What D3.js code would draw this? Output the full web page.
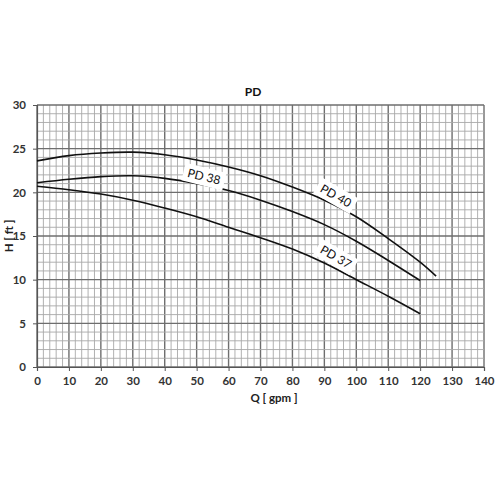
<!DOCTYPE html>
<html>
<head>
<meta charset="utf-8">
<script src="https://cdn.jsdelivr.net/npm/d3@7"></script>
<style>
  body { margin: 0; background: #fff; }
  svg text { font-family: Lato, "Open Sans", sans-serif; }
</style>
</head>
<body>
<div id="chart"></div>
<script>
// flow Q [gpm] and head H [ft]
var q = [0, 10, 20, 30, 40, 50, 60, 70, 80, 90, 100, 110, 120];
var q40 = [0, 10, 20, 30, 40, 50, 60, 70, 80, 90, 100, 110, 120, 125];
var pd40 = [23.6, 24.2, 24.5, 24.6, 24.3, 23.7, 22.9, 21.9, 20.6, 19.1, 17.2, 14.7, 12.0, 10.4];
var pd38 = [21.1, 21.5, 21.8, 21.9, 21.6, 21.0, 20.2, 19.1, 17.8, 16.3, 14.4, 12.2, 9.9];
var pd37 = [20.7, 20.3, 19.8, 19.1, 18.2, 17.2, 16.0, 14.8, 13.5, 11.9, 10.0, 8.1, 6.1];

var curveNames = ["PD 40", "PD 38", "PD 37"];
// label anchor in data units and text angle
var labelQ = [93.6, 52.3, 93.6];
var labelH = [19.6, 21.8, 12.6];
var labelAngle = [30, 14, 30];

var xTicks = d3.range(0, 141, 10);
var yTicks = d3.range(0, 31, 5);

(function(){
	var W = 500, H = 500;
	var m = {left: 37, right: 16, top: 105, bottom: 133};

	var svg = d3.select("#chart").append("svg")
		.attr("width", W).attr("height", H);

	var x = d3.scaleLinear().domain([0, 140]).range([m.left, W - m.right]);
	var y = d3.scaleLinear().domain([0, 30]).range([H - m.bottom, m.top]);

	var grid = svg.append("g");

	//grid, major every 10 / 5
	grid.selectAll("line.vx").data(d3.range(0, 141, 2)).enter().append("line")
		.attr("x1", function(d){return x(d)}).attr("x2", function(d){return x(d)})
		.attr("y1", y(0)).attr("y2", y(30))
		.attr("stroke", function(d){return d % 10 === 0 ? "#6e6e6e" : "#a8a8a8"})
		.attr("stroke-width", function(d){return d % 10 === 0 ? 1.4 : 0.9});
	grid.selectAll("line.hy").data(d3.range(0, 31, 1)).enter().append("line")
		.attr("y1", function(d){return y(d)}).attr("y2", function(d){return y(d)})
		.attr("x1", x(0)).attr("x2", x(140))
		.attr("stroke", function(d){return d % 5 === 0 ? "#6e6e6e" : "#a8a8a8"})
		.attr("stroke-width", function(d){return d % 5 === 0 ? 1.4 : 0.9});

	//axes
	var xa = svg.append("g").attr("transform", "translate(0," + y(0) + ")")
		.call(d3.axisBottom(x).tickValues(xTicks).tickSize(4).tickPadding(6));
	var ya = svg.append("g").attr("transform", "translate(" + x(0) + ",0)")
		.call(d3.axisLeft(y).tickValues(yTicks).tickSize(4).tickPadding(7));
	[xa, ya].forEach(function(a){
		a.select(".domain").attr("stroke", "#555").attr("stroke-width", 1.2);
		a.selectAll(".tick line").attr("stroke", "#555");
		a.selectAll("text").attr("font-size", 11.5).attr("font-weight", "bold").attr("fill", "#333");
	});

	//curves
	var line = d3.line().curve(d3.curveCatmullRom.alpha(0.5))
		.x(function(d){return x(d[0])}).y(function(d){return y(d[1])});
	var series = [d3.zip(q40, pd40), d3.zip(q, pd38), d3.zip(q, pd37)];
	svg.append("g").selectAll("path").data(series).enter().append("path")
		.attr("d", line).attr("fill", "none")
		.attr("stroke", "#111").attr("stroke-width", 1.6);

	//labels on white boxes
	var lab = svg.append("g").selectAll("g").data(curveNames).enter().append("g")
		.attr("transform", function(d, i){
			return "translate(" + x(labelQ[i]) + "," + y(labelH[i]) + ") rotate(" + labelAngle[i] + ")";
		});
	lab.append("rect").attr("x", -21).attr("y", -9).attr("width", 42).attr("height", 18)
		.attr("fill", "#fff");
	lab.append("text").text(function(d){return d})
		.attr("text-anchor", "middle").attr("dy", "0.35em")
		.attr("font-size", 12).attr("fill", "#111");

	//titles
	svg.append("text").attr("x", 253).attr("y", 96).attr("text-anchor", "middle")
		.attr("font-size", 12).attr("font-weight", "bold").attr("fill", "#111").text("PD");
	svg.append("text").attr("x", 274).attr("y", 402).attr("text-anchor", "middle")
		.attr("font-size", 11.5).attr("font-weight", "bold").attr("fill", "#222").text("Q [ gpm ]");
	svg.append("text").attr("transform", "translate(13," + y(15) + ") rotate(-90)")
		.attr("text-anchor", "middle").attr("font-size", 11.5).attr("font-weight", "bold")
		.attr("fill", "#222").text("H [ ft ]");
})();
</script>
</body>
</html>
